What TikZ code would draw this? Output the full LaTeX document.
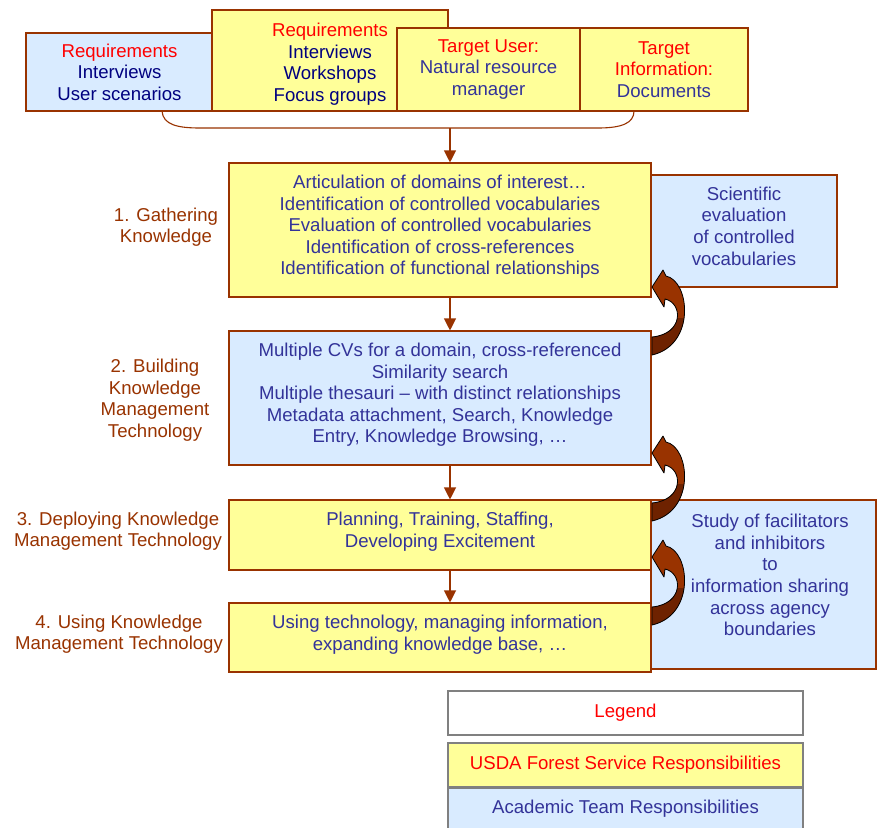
\documentclass[tikz,border=0pt]{standalone}
\usepackage{fontspec}
\setmainfont{Liberation Sans}
\usetikzlibrary{arrows.meta,calc}
\definecolor{yel}{HTML}{FFFF99}
\definecolor{blu}{HTML}{D9EBFF}
\definecolor{brn}{HTML}{993300}
\definecolor{darkbrn}{HTML}{6E2200}
\definecolor{navy}{HTML}{000080}
\definecolor{txtb}{HTML}{333399}
\definecolor{rd}{HTML}{FF0000}
\definecolor{gry}{HTML}{808080}
\newcommand{\curvedarr}[1]{%
  \begin{scope}[shift={(0,#1)}]
    \fill[brn] (652,287) -- (663,270) -- (666,276) .. controls (690,281) and (696,345) .. (652,355) -- (652,337) .. controls (684,334) and (683,303) .. (665,299) -- (664,307) -- cycle;
    \begin{scope}
      \clip (640,318) rectangle (700,360);
      \fill[darkbrn] (652,287) -- (663,270) -- (666,276) .. controls (690,281) and (696,345) .. (652,355) -- (652,337) .. controls (684,334) and (683,303) .. (665,299) -- (664,307) -- cycle;
    \end{scope}
    \draw[black, line width=0.8pt, line join=round] (652,287) -- (663,270) -- (666,276) .. controls (690,281) and (696,345) .. (652,355) -- (652,337) .. controls (684,334) and (683,303) .. (665,299) -- (664,307) -- cycle;
  \end{scope}}
\begin{document}
\begin{tikzpicture}[x=1pt,y=-1pt,
  txt/.style={font=\fontsize{18.6}{21.6}\selectfont, align=center, inner sep=0pt},
  box/.style={txt, draw=brn, line width=1.1pt},
  ybox/.style={box, fill=yel},
  bbox/.style={box, fill=blu},
  lbox/.style={txt, draw=gry, line width=1.2pt, minimum width=355pt, minimum height=44pt},
  lab/.style={txt, text=brn},
  arr/.style={draw=brn, line width=1.1pt, -{Triangle[width=12pt,length=12pt]}}]
\useasboundingbox (0,0) rectangle (877,827);
\fill[white] (0,0) rectangle (877,827);

% top boxes
\node[bbox, minimum width=187pt, minimum height=78pt, text=navy] (t1) at (119.5,72)
  {\textcolor{rd}{Requirements}\\Interviews\\User scenarios};
\node[ybox, minimum width=236pt, minimum height=101pt] (t2) at (330,60.5) {};
\node[txt, text=navy] (t2t) at (330,64)
  {\textcolor{rd}{Requirements}\\Interviews\\Workshops\\Focus groups};
\node[ybox, minimum width=183pt, minimum height=83pt, text=txtb] (t3) at (488.5,69.5)
  {\textcolor{rd}{Target User:}\\Natural resource\\manager};
\node[ybox, minimum width=168pt, minimum height=83pt, text=txtb] (t4) at (664,69.5)
  {\textcolor{rd}{Target}\\\textcolor{rd}{Information:}\\Documents};

% brace
\coordinate (bl) at (162,111);
\coordinate (br) at (634,111);
\coordinate (bm) at (450,128);
\draw[brn, line width=1.1pt] (bl) .. controls (163,125) and (178,128) .. (200,128) -- (598,128)
  .. controls (622,128) and (634,123) .. (br);

% main boxes
\node[ybox, minimum width=422pt, minimum height=134pt, text=txtb, text depth=10pt] (b1) at (440,230)
  {Articulation of domains of interest\ldots\\Identification of controlled vocabularies\\Evaluation of controlled vocabularies\\Identification of cross-references\\Identification of functional relationships};
\node[bbox, minimum width=422pt, minimum height=134pt, text=txtb, text depth=10pt] (b2) at (440,398)
  {Multiple CVs for a domain, cross-referenced\\Similarity search\\Multiple thesauri -- with distinct relationships\\Metadata attachment, Search, Knowledge\\Entry, Knowledge Browsing, \ldots};
\node[bbox, minimum width=225pt, minimum height=169pt] (study) at (763.5,584.5) {};
\node[txt, text=txtb] (studyt) at (770,575)
  {Study of facilitators\\and inhibitors\\to\\information sharing\\across agency\\boundaries};
\node[ybox, minimum width=422pt, minimum height=70pt, text=txtb, text depth=10pt] (b3) at (440,535)
  {Planning, Training, Staffing,\\Developing Excitement};
\node[ybox, minimum width=422pt, minimum height=69pt, text=txtb, text depth=10pt] (b4) at (440,637.5)
  {Using technology, managing information,\\expanding knowledge base, \ldots};
\node[bbox, minimum width=186pt, minimum height=112pt, text=txtb, text depth=10pt] (sci) at (744,231)
  {Scientific\\evaluation\\of controlled\\vocabularies};

% left labels
\node[lab] (l1) at (166,227) {1. Gathering\\Knowledge};
\node[lab] (l2) at (155,400) {2. Building\\Knowledge\\Management\\Technology};
\node[lab] (l3) at (118,531) {3. Deploying Knowledge\\Management Technology};
\node[lab] (l4) at (119,634) {4. Using Knowledge\\Management Technology};

% straight arrows
\draw[arr] (bm) -- (bm |- b1.north);
\draw[arr] (b1.south -| bm) -- (b2.north -| bm);
\draw[arr] (b2.south -| bm) -- (b3.north -| bm);
\draw[arr] (b3.south -| bm) -- (b4.north -| bm);

% curved arrows
\curvedarr{0}
\curvedarr{166}
\curvedarr{270}

% legend
\node[lbox, fill=white, text=rd] (lg) at (625.5,713) {Legend};
\node[lbox, fill=yel, text=rd] (ly) at (625.5,765) {USDA Forest Service Responsibilities};
\node[lbox, fill=blu, text=txtb, text depth=6pt] (lb) at (625.5,810) {Academic Team Responsibilities};
\end{tikzpicture}
\end{document}
